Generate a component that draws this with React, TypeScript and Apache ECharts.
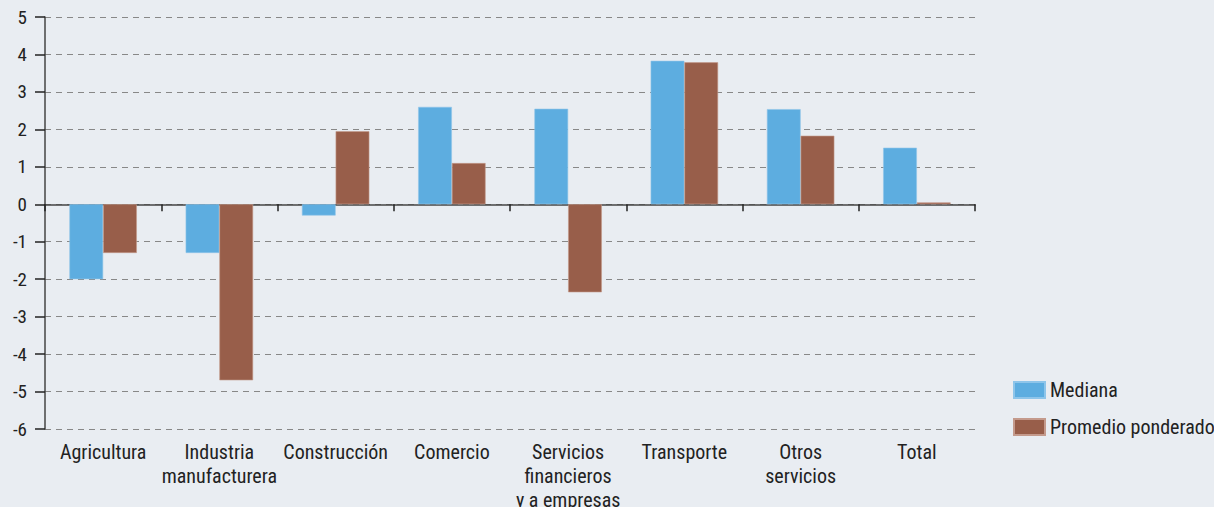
import React, { useEffect, useRef } from "react";
import * as echarts from "echarts";

const categories = [
  "Agricultura",
  "Industria\nmanufacturera",
  "Construcción",
  "Comercio",
  "Servicios\nfinancieros\ny a empresas",
  "Transporte",
  "Otros\nservicios",
  "Total",
];
const mediana = [-2.0, -1.3, -0.3, 2.6, 2.55, 3.83, 2.54, 1.51];
const promedio = [-1.3, -4.7, 1.95, 1.1, -2.35, 3.79, 1.83, 0.05];
const seriesNames = ["Mediana", "Promedio ponderado"];

const FONT = "'Roboto Condensed', Roboto, sans-serif";

export default function App() {
  const ref = useRef<HTMLDivElement>(null);
  useEffect(() => {
    document.body.style.margin = "0";
    const chart = echarts.init(ref.current!, null, { renderer: "svg" });
    chart.setOption({
      animation: false,
      backgroundColor: "#e9edf2",
      textStyle: { fontFamily: FONT },
      grid: { left: 45, right: 239, top: 17, bottom: 78, containLabel: false, outerBoundsMode: "none" },
      legend: {
        orient: "vertical",
        left: 1013,
        top: 380,
        padding: 0,
        itemWidth: 31,
        itemHeight: 16,
        itemGap: 17,
        icon: "rect",
        textStyle: { fontSize: 20, color: "#222", fontFamily: FONT },
        data: seriesNames,
      },
      xAxis: {
        type: "category",
        data: categories,
        axisLine: { onZero: true, lineStyle: { color: "#444", width: 1.5 } },
        axisTick: { show: true, alignWithLabel: false, length: 7, inside: false, lineStyle: { color: "#222", width: 1.5 } },
        axisLabel: {
          interval: 0,
          fontSize: 20,
          color: "#222",
          fontFamily: FONT,
          lineHeight: 24,
          margin: 11,
          verticalAlign: "top",
        },
        position: "bottom",
      },
      yAxis: {
        type: "value",
        min: -6,
        max: 5,
        interval: 1,
        axisLine: { show: true, lineStyle: { color: "#444", width: 1.5 } },
        axisTick: { show: true, length: 10, lineStyle: { color: "#222", width: 1.5 } },
        axisLabel: { fontSize: 19, color: "#222", fontFamily: FONT, margin: 18 },
        splitLine: { show: true, lineStyle: { color: "#888", type: [6, 5], width: 1 } },
      },
      series: [
        {
          name: seriesNames[0],
          type: "bar",
          data: mediana,
          barGap: "0%",
          barCategoryGap: "42%",
          itemStyle: { color: "#5dade0", borderColor: "#8ec5ea", borderWidth: 0.6 },
        },
        {
          name: seriesNames[1],
          type: "bar",
          data: promedio,
          barGap: "0%",
          barCategoryGap: "42%",
          itemStyle: { color: "#985e4a", borderColor: "#c49a8c", borderWidth: 0.6 },
        },
      ],
    });
    return () => chart.dispose();
  }, []);
  return <div ref={ref} style={{ width: 1214, height: 507, position: "absolute", left: 0, top: 0 }} />;
}
